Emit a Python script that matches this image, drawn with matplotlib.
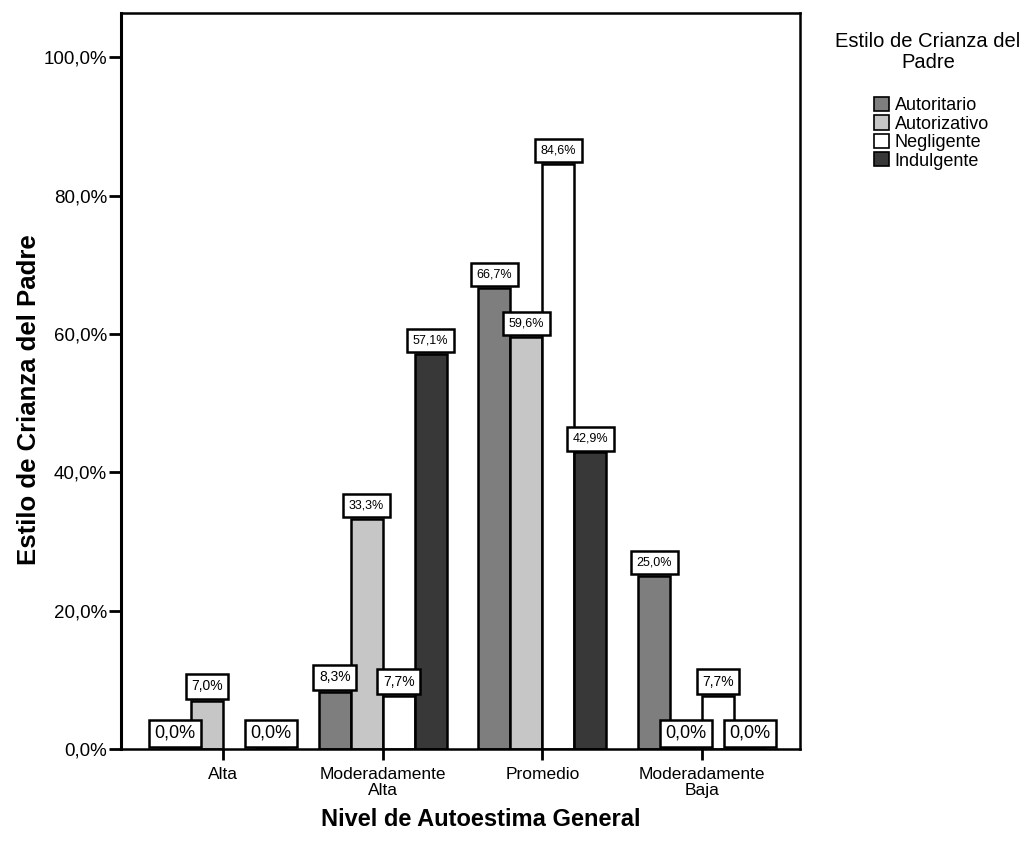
import matplotlib
matplotlib.use("Agg")
import matplotlib.pyplot as plt
import numpy as np
from matplotlib.patches import Patch

plt.rcParams['font.family'] = ['Liberation Sans', 'DejaVu Sans']

categories = ["Alta", "Moderadamente\nAlta", "Promedio", "Moderadamente\nBaja"]
series_names = ["Autoritario", "Autorizativo", "Negligente", "Indulgente"]
autoritario = [0.0, 8.3, 66.7, 25.0]
autorizativo = [7.0, 33.3, 59.6, 0.0]
negligente = [np.nan, 7.7, 84.6, 7.7]
indulgente = [0.0, 57.1, 42.9, 0.0]
yticks = [0, 20, 40, 60, 80, 100]
ytick_labels = ["0,0%", "20,0%", "40,0%", "60,0%", "80,0%", "100,0%"]

series = [autoritario, autorizativo, negligente, indulgente]
colors = ["#7e7e7e", "#c6c6c6", "#ffffff", "#383838"]

fig = plt.figure(figsize=(10.36, 8.47), dpi=100)
ax = fig.add_axes([0.1168, 0.1157, 0.6554, 0.8690])

x = np.arange(len(categories))
width = 0.2
offsets = [-0.3, -0.1, 0.1, 0.3]

for vals, col, off, name in zip(series, colors, offsets, series_names):
    v = np.array(vals, dtype=float)
    mask = ~np.isnan(v)
    ax.bar(x[mask] + off, v[mask], width=width, color=col, edgecolor="black",
           linewidth=1.8, label=name, zorder=2)

for vals, off in zip(series, offsets):
    for xi, val in zip(x, vals):
        if val is None or np.isnan(val):
            continue
        if val == 0:
            fs, pad = 13, 0.3
        elif val < 10:
            fs, pad = 10, 0.4
        else:
            fs, pad = 9, 0.45
        dy = pad * fs + 1.2
        txt = f"{val:.1f}%".replace(".", ",")
        ax.annotate(txt, (xi + off, val), xytext=(0, dy), textcoords="offset points",
                    ha="center", va="bottom", fontsize=fs, zorder=5,
                    bbox=dict(boxstyle=f"square,pad={pad}", facecolor="white",
                              edgecolor="black", linewidth=1.8))

ax.set_xlim(-0.6375, 3.6125)
ax.set_ylim(0, 106.4)
ax.set_yticks(yticks)
ax.set_yticklabels(ytick_labels, fontsize=13.5)
ax.set_xticks(x)
ax.set_xticklabels(categories, fontsize=12.5, linespacing=1.05)
ax.tick_params(axis="y", length=9, width=2, direction="out", pad=1)
ax.tick_params(axis="x", length=8, width=2, direction="out", pad=5)
for s in ax.spines.values():
    s.set_linewidth(1.8)
ax.spines["left"].set_linewidth(2.2)

ax.set_ylabel("Estilo de Crianza del Padre", fontsize=18.5, fontweight="bold")
ax.yaxis.set_label_coords(-0.118, 0.475)
ax.set_xlabel("Nivel de Autoestima General", fontsize=17, fontweight="bold")
ax.xaxis.set_label_coords(0.53, -0.08)

fig.text(928 / 1036, 1 - 52 / 847, "Estilo de Crianza del\nPadre", ha="center", va="center",
         fontsize=14.5, linespacing=1.1)
handles = [Patch(facecolor=c, edgecolor="black", linewidth=1.2) for c in colors]
fig.legend(handles, series_names, loc="upper left", bbox_to_anchor=(865 / 1036, 1 - 88 / 847),
           frameon=False, fontsize=13, handlelength=0.85, handleheight=0.85,
           handletextpad=0.3, labelspacing=0.05, borderpad=0)

fig.savefig("out.png", dpi=100)
